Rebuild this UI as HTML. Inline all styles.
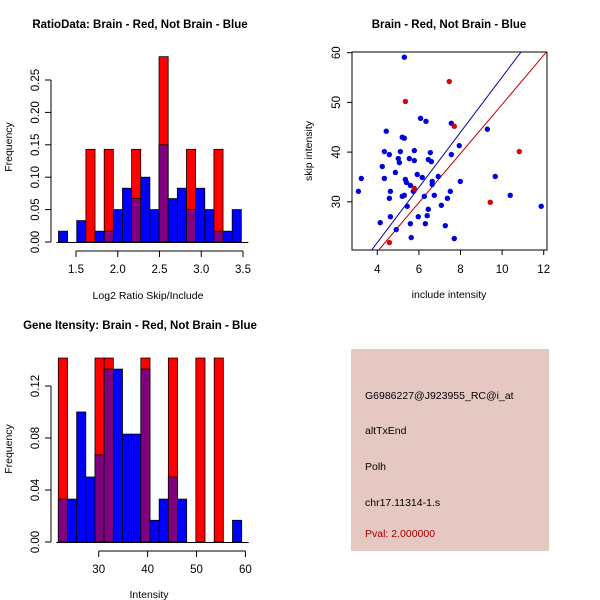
<!DOCTYPE html>
<html><head><meta charset="utf-8"><style>
html,body{margin:0;padding:0;background:#fff}
svg{display:block;font-family:"Liberation Sans",Arial,sans-serif}
</style></head><body>
<svg id="s" width="600" height="600" viewBox="0 0 600 600">
<text x="140" y="28" text-anchor="middle" font-size="11.5" font-weight="bold">RatioData: Brain - Red, Not Brain - Blue</text>
<text x="148" y="299" text-anchor="middle" font-size="10.5">Log2 Ratio Skip/Include</text>
<text transform="translate(12,147) rotate(-90)" text-anchor="middle" font-size="10.5">Frequency</text>
<text x="449" y="28" text-anchor="middle" font-size="11.5" font-weight="bold">Brain - Red, Not Brain - Blue</text>
<text x="449" y="298" text-anchor="middle" font-size="10.5">include intensity</text>
<text transform="translate(312,151) rotate(-90)" text-anchor="middle" font-size="10.5">skip intensity</text>
<text x="140" y="329" text-anchor="middle" font-size="11.5" font-weight="bold">Gene Itensity: Brain - Red, Not Brain - Blue</text>
<text x="149" y="598" text-anchor="middle" font-size="10.5">Intensity</text>
<text transform="translate(12,449) rotate(-90)" text-anchor="middle" font-size="10.5">Frequency</text>
<g>
<rect x="351" y="349" width="198" height="202" fill="#e6c8c2"/>
<text x="365" y="399" font-size="10.5">G6986227@J923955_RC@i_at</text>
<text x="365" y="434" font-size="10.5">altTxEnd</text>
<text x="365" y="470" font-size="10.5">Polh</text>
<text x="365" y="506" font-size="10.5">chr17.11314-1.s</text>
<text x="365" y="537" font-size="10.5" fill="#a00000">Pval: 2.000000</text>
</g>
</svg>
<script>
const ratioStart=1.29, ratioWidth=0.1095;
const ratioBlue=[0.0167,0,0.033,0,0.0167,0.0167,0.05,0.083,0.067,0.1,0.05,0.15,0.067,0.083,0.05,0.083,0.05,0.0167,0.0167,0.05];
const ratioRed=[0,0,0,0.143,0,0.143,0,0,0.143,0,0,0.286,0,0,0.143,0,0,0.143,0,0];
const ratioXTicks=[1.5,2.0,2.5,3.0,3.5];
const ratioYTicks=[0,0.05,0.10,0.15,0.20,0.25];
const geneStart=21.74, geneWidth=1.875;
const geneBlue=[0.033,0.033,0.1,0.05,0.067,0.133,0.133,0.083,0.083,0.133,0.0167,0.033,0.05,0.033,0,0,0,0,0,0.0167];
const geneRed=[0.143,0,0,0,0.143,0.143,0,0,0,0.143,0,0,0.143,0,0,0.143,0,0.143,0,0];
const geneXTicks=[30,40,50,60];
const geneYTicks=[0,0.04,0.08,0.12];
const blueX=[5.30,6.08,6.34,4.43,5.20,5.30,7.56,9.29,7.94,4.34,4.58,5.11,5.78,6.55,7.56,5.01,5.06,5.54,5.78,6.45,6.60,4.24,4.87,5.92,4.34,3.23,5.35,6.16,5.40,5.59,6.64,6.64,6.93,7.99,9.67,3.09,4.63,5.73,7.51,5.20,5.30,6.26,6.74,10.39,4.58,7.37,5.44,7.08,11.88,6.45,4.63,5.97,6.40,4.14,5.59,6.31,7.27,4.91,5.63,7.70];
const blueY=[59.1,46.8,46.2,44.2,43.0,42.8,45.8,44.6,41.3,40.1,39.5,40.1,40.3,39.9,39.5,38.7,37.9,38.7,38.3,38.5,38.1,37.1,35.9,35.5,34.7,34.7,34.5,34.9,33.9,33.3,34.1,33.5,35.1,34.1,35.1,32.1,32.1,32.1,32.1,31.1,31.3,31.1,31.3,31.3,30.7,30.7,29.1,29.3,29.1,28.5,27.0,27.0,27.2,25.8,25.6,25.6,25.2,24.4,22.8,22.6];
const redX=[7.46,5.35,7.70,10.83,5.78,9.43,4.58];
const redY=[54.2,50.2,45.2,40.1,32.7,29.9,21.8];
const fitBlue=[-0.4,5.55], fitRed=[0.2,4.94];
const scatXTicks=[4,6,8,10,12], scatYTicks=[30,40,50,60];

const S=document.getElementById('s'),NS='http://www.w3.org/2000/svg';
function mk(t,a,name){const e=document.createElementNS(NS,t);for(const k in a)e.setAttribute(k,a[k]);S.appendChild(e);


return e;}
function hist(start,w,blue,red,xs,ys,xt,yt,prefix,yTickY,xAxisY,yMax){
  blue.forEach((b,i)=>{const r=red[i];const x0=xs(start+i*w),x1=xs(start+(i+1)*w);
    const m=Math.min(b,r),hi=Math.max(b,r);
    if(hi>0){mk('rect',{x:x0,y:ys(Math.min(hi,yMax)),width:x1-x0,height:ys(0)-ys(Math.min(hi,yMax)),fill:r>b?'#ff0000':'#0000ff',stroke:'#000','stroke-width':0.8},prefix+'-bar-'+i);}
    if(m>0){mk('rect',{x:x0,y:ys(m),width:x1-x0,height:ys(0)-ys(m),fill:'#800080',stroke:'#000','stroke-width':0.8},prefix+'-overlap-'+i);}
  });
  mk('line',{x1:xs(start)-2,x2:xs(start+blue.length*w)+7,y1:ys(0)+0.5,y2:ys(0)+0.5,stroke:'#000'},prefix+'-baseline');
  mk('line',{x1:xs(xt[0]),x2:xs(xt[xt.length-1]),y1:xAxisY,y2:xAxisY,stroke:'#000'},prefix+'-x-axis');
  xt.forEach(v=>{mk('line',{x1:xs(v),x2:xs(v),y1:xAxisY,y2:xAxisY+6,stroke:'#000'},prefix+'-x-tick');
    const t=mk('text',{x:xs(v),y:xAxisY+22,'text-anchor':'middle','font-size':11.5},prefix+'-x-tick-label');t.textContent=(prefix==='ratio'?v.toFixed(1):v);});
  const ax=51;
  mk('line',{x1:ax,x2:ax,y1:ys(yt[0]),y2:ys(yt[yt.length-1]),stroke:'#000'},prefix+'-y-axis');
  yt.forEach(v=>{mk('line',{x1:ax-6,x2:ax,y1:ys(v),y2:ys(v),stroke:'#000'},prefix+'-y-tick');
    const t=mk('text',{transform:`translate(${ax-12},${ys(v)}) rotate(-90)`,'text-anchor':'middle','font-size':11.5},prefix+'-y-tick-label');t.textContent=v.toFixed(2);});
}
hist(ratioStart,ratioWidth,ratioBlue,ratioRed,v=>76+(v-1.5)*83.5,v=>242-v*648,ratioXTicks,ratioYTicks,'ratio',0,251,1);
hist(geneStart,geneWidth,geneBlue,geneRed,v=>98.7+(v-30)*4.89,v=>542-v*1300,geneXTicks,geneYTicks,'gene',0,551,0.1415);

const sx=v=>377.3+(v-4)*20.8, sy=v=>52.7+(60-v)*4.97;
const L=352,R=547,T=52,B=250;
mk('rect',{x:L,y:T,width:R-L,height:B-T,fill:'none',stroke:'#000'},'scatter-frame');
const cp=mk('clipPath',{id:'cp'},'scatter-clip');const cr=document.createElementNS(NS,'rect');
cr.setAttribute('x',L);cr.setAttribute('y',T);cr.setAttribute('width',R-L);cr.setAttribute('height',B-T);cp.appendChild(cr);
[[fitBlue,'#0000a0','fit-line-blue'],[fitRed,'#c00000','fit-line-red']].forEach(([f,c,n])=>{
  mk('line',{x1:sx(2),y1:sy(f[0]+f[1]*2),x2:sx(13),y2:sy(f[0]+f[1]*13),stroke:c,'clip-path':'url(#cp)'},n);});
blueX.forEach((x,i)=>mk('circle',{cx:sx(x),cy:sy(blueY[i]),r:2.7,fill:'#0000dd'},'point-blue'));
redX.forEach((x,i)=>mk('circle',{cx:sx(x),cy:sy(redY[i]),r:2.7,fill:'#dd0000'},'point-red'));
scatXTicks.forEach(v=>{mk('line',{x1:sx(v),x2:sx(v),y1:B,y2:B+5,stroke:'#000'},'scatter-x-tick');
  const t=mk('text',{x:sx(v),y:B+23,'text-anchor':'middle','font-size':11.5},'scatter-x-tick-label');t.textContent=v;});
scatYTicks.forEach(v=>{mk('line',{x1:L-5,x2:L,y1:sy(v),y2:sy(v),stroke:'#000'},'scatter-y-tick');
  const t=mk('text',{transform:`translate(${L-12},${sy(v)}) rotate(-90)`,'text-anchor':'middle','font-size':11.5},'scatter-y-tick-label');t.textContent=v;});
</script>
</body></html>
